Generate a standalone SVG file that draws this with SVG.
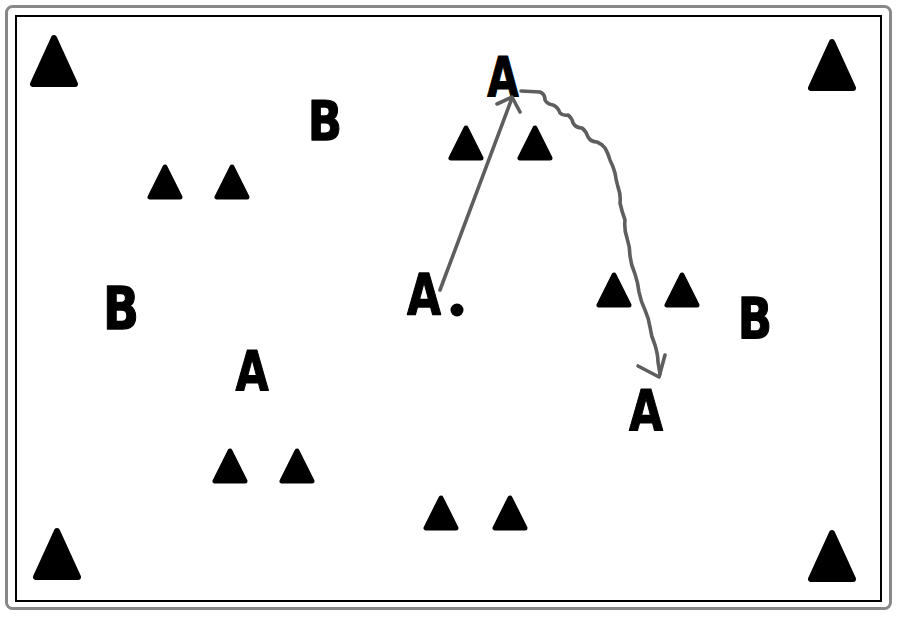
<svg xmlns="http://www.w3.org/2000/svg" xmlns:xlink="http://www.w3.org/1999/xlink" width="900" height="620" viewBox="0 0 900 620">
<style>
.lbl{font-family:"DejaVu Sans","Liberation Sans",Arial,sans-serif;font-weight:bold;font-size:55px;fill:#000;stroke:#000;stroke-width:1.2px;stroke-linejoin:round;text-anchor:middle}
.move{fill:none;stroke:#5e5e5e;stroke-width:3.6;stroke-linecap:round;stroke-linejoin:round}
</style>
<defs>
<polygon id="bigTri" points="0,-23 -21,23 21,23" fill="#000" stroke="#000" stroke-width="6" stroke-linejoin="round"/>
<polygon id="smTri" points="0,-15 -15,15 15,15" fill="#000" stroke="#000" stroke-width="5" stroke-linejoin="round"/>
</defs>
<rect width="900" height="620" fill="#fff"/>
<g id="frame" fill="none">
<rect x="6.5" y="6.5" width="884" height="602" rx="6" stroke="#888" stroke-width="3"/>
<rect x="16" y="16" width="865" height="585" stroke="#000" stroke-width="2"/>
</g>
<g id="cone-tl"><use xlink:href="#bigTri" x="54" y="61"/></g>
<g id="cone-tr"><use xlink:href="#bigTri" x="832" y="65"/></g>
<g id="cone-bl"><use xlink:href="#bigTri" x="57" y="554"/></g>
<g id="cone-br"><use xlink:href="#bigTri" x="832" y="556"/></g>
<g id="gate-top"><use xlink:href="#smTri" x="466" y="143"/><use xlink:href="#smTri" x="535" y="143"/></g>
<g id="gate-left"><use xlink:href="#smTri" x="165" y="182"/><use xlink:href="#smTri" x="232" y="182"/></g>
<g id="gate-right"><use xlink:href="#smTri" x="614" y="290"/><use xlink:href="#smTri" x="682" y="290"/></g>
<g id="gate-lowleft"><use xlink:href="#smTri" x="230" y="466"/><use xlink:href="#smTri" x="297" y="466"/></g>
<g id="gate-bottom"><use xlink:href="#smTri" x="441" y="513"/><use xlink:href="#smTri" x="510" y="513"/></g>
<g id="player-a-top"><text class="lbl" transform="translate(503,96) scale(0.74,1)">A</text></g>
<g id="player-a-mid"><text class="lbl" transform="translate(424,315) scale(0.8,1.05)">A</text><circle cx="457" cy="310" r="6.5" fill="#000"/></g>
<g id="player-a-left"><text class="lbl" transform="translate(252,390) scale(0.78,1)">A</text></g>
<g id="player-a-right"><text class="lbl" transform="translate(646,431) scale(0.8,1.02)">A</text></g>
<g id="player-b-top"><text class="lbl" transform="translate(325,140) scale(0.82,1)">B</text></g>
<g id="player-b-left"><text class="lbl" transform="translate(121,329) scale(0.86,1.08)">B</text></g>
<g id="player-b-right"><text class="lbl" transform="translate(755,339) scale(0.82,1.05)">B</text></g>
<g id="connectors">
<path class="move" d="M440,290 L512,98"/>
<path class="move" d="M497,104 L512,97 L520,112"/>
<path class="move" d="M521,91 L540,92 Q545,94 545,100 Q547,104 553,105 Q558,107 560,113 Q563,116 568,115 Q572,118 573,123 Q576,128 582,128 Q586,131 588,137 Q591,142 597,142 Q602,144 605,148 Q608,153 610,160 Q613,166 615,173 Q616,180 618,187 Q621,195 620,203 Q622,212 625,220 Q624,230 627,238 Q630,247 630,256 Q631,265 635,274 Q638,283 639,292 Q641,302 645,310 Q649,319 650,327 Q651,336 655,345 Q658,355 658,362 L660,374"/>
<path class="move" d="M638,366 L659,377 L665,355"/>
</g>
</svg>
